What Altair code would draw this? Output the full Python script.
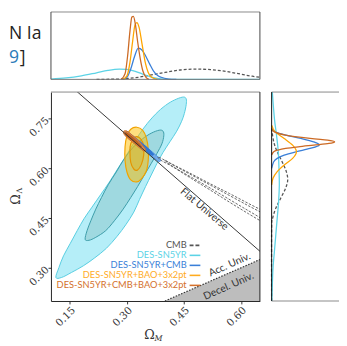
import altair as alt
import pandas as pd

# ---------------- data ----------------
series = ["CMB", "DES-SN5YR", "DES-SN5YR+CMB", "DES-SN5YR+BAO+3x2pt", "DES-SN5YR+CMB+BAO+3x2pt"]
colors = ["#555555", "#5cd3e6", "#3a7fd8", "#ffab1f", "#d4712c"]

# 2D contours: Omega_M / Omega_Lambda vertices
sn_out_om = [0.113, 0.121, 0.133, 0.151, 0.169, 0.187, 0.208, 0.231, 0.254, 0.277, 0.303, 0.328, 0.354, 0.382,
             0.408, 0.431, 0.449, 0.456, 0.456, 0.451, 0.444, 0.431, 0.413, 0.395, 0.379, 0.364, 0.349, 0.333,
             0.318, 0.297, 0.274, 0.246, 0.215, 0.185, 0.154, 0.128]
sn_out_ol = [0.271, 0.301, 0.336, 0.374, 0.412, 0.448, 0.483, 0.521, 0.559, 0.601, 0.648, 0.695, 0.736, 0.771,
             0.795, 0.809, 0.815, 0.809, 0.792, 0.765, 0.742, 0.712, 0.680, 0.648, 0.615, 0.580, 0.545, 0.506,
             0.468, 0.430, 0.395, 0.359, 0.330, 0.306, 0.286, 0.271]
sn_in_om = [0.190, 0.195, 0.205, 0.218, 0.233, 0.251, 0.272, 0.292, 0.315, 0.341, 0.364, 0.385, 0.395, 0.397,
            0.392, 0.379, 0.364, 0.346, 0.328, 0.310, 0.290, 0.267, 0.244, 0.218, 0.200]
sn_in_ol = [0.386, 0.412, 0.442, 0.477, 0.512, 0.551, 0.589, 0.627, 0.662, 0.689, 0.706, 0.715, 0.712, 0.698,
            0.674, 0.645, 0.615, 0.580, 0.545, 0.512, 0.477, 0.442, 0.412, 0.392, 0.383]
cmb_out_om = [0.383, 0.42, 0.47, 0.52, 0.57, 0.62, 0.67, 0.70, 0.70, 0.67, 0.62, 0.57, 0.52, 0.47, 0.42, 0.39]
cmb_out_ol = [0.634, 0.612, 0.583, 0.553, 0.524, 0.494, 0.465, 0.447, 0.408, 0.429, 0.463, 0.498, 0.534, 0.569,
              0.605, 0.624]
cmb_in_om = [0.40, 0.42, 0.52, 0.62, 0.70, 0.70, 0.62, 0.52, 0.42]
cmb_in_ol = [0.625, 0.611, 0.549, 0.487, 0.438, 0.420, 0.472, 0.540, 0.606]
sncmb_out_om = [0.300, 0.320, 0.340, 0.358, 0.375, 0.386, 0.389, 0.384, 0.370, 0.352, 0.333, 0.314, 0.300, 0.297]
sncmb_out_ol = [0.712, 0.694, 0.676, 0.658, 0.641, 0.630, 0.624, 0.621, 0.632, 0.649, 0.667, 0.685, 0.700, 0.707]
sncmb_in_om = [0.310, 0.330, 0.350, 0.366, 0.370, 0.364, 0.348, 0.328, 0.310, 0.306]
sncmb_in_ol = [0.702, 0.684, 0.665, 0.648, 0.641, 0.641, 0.656, 0.675, 0.692, 0.698]
snbao_out_om = [0.326, 0.341, 0.351, 0.356, 0.356, 0.351, 0.338, 0.326, 0.310, 0.300, 0.295, 0.295, 0.300, 0.310]
snbao_out_ol = [0.724, 0.715, 0.692, 0.659, 0.624, 0.592, 0.568, 0.559, 0.565, 0.589, 0.624, 0.665, 0.698, 0.718]
snbao_in_om = [0.323, 0.336, 0.344, 0.344, 0.338, 0.328, 0.318, 0.310, 0.308, 0.310]
snbao_in_ol = [0.695, 0.689, 0.668, 0.639, 0.612, 0.595, 0.598, 0.618, 0.648, 0.674]
all_out_om = [0.293, 0.300, 0.312, 0.325, 0.337, 0.347, 0.349, 0.343, 0.332, 0.318, 0.305, 0.295, 0.291]
all_out_ol = [0.713, 0.712, 0.702, 0.689, 0.675, 0.661, 0.654, 0.653, 0.663, 0.676, 0.688, 0.699, 0.707]
all_in_om = [0.297, 0.310, 0.323, 0.334, 0.338, 0.333, 0.320, 0.307, 0.297]
all_in_ol = [0.708, 0.698, 0.685, 0.672, 0.665, 0.666, 0.679, 0.691, 0.700]

# reference lines
flat_om = [0.10, 0.65]
flat_ol = [0.90, 0.35]
acc_om = [0.40, 0.65]
acc_ol = [0.20, 0.325]

# 1D marginals: Omega_M (top)
top_cmb_om = [0.22, 0.28, 0.33, 0.37, 0.40, 0.44, 0.48, 0.52, 0.56, 0.60, 0.63, 0.65]
top_cmb_p = [0.0, 0.005, 0.03, 0.07, 0.10, 0.135, 0.148, 0.14, 0.115, 0.075, 0.045, 0.03]
top_sn_om = [0.10, 0.14, 0.18, 0.22, 0.25, 0.28, 0.30, 0.32, 0.34, 0.36, 0.38, 0.40, 0.43, 0.65]
top_sn_p = [0.005, 0.02, 0.05, 0.095, 0.13, 0.148, 0.145, 0.12, 0.08, 0.04, 0.015, 0.004, 0.0, 0.0]
top_sncmb_om = [0.29, 0.30, 0.31, 0.32, 0.33, 0.34, 0.35, 0.36, 0.37, 0.38, 0.39, 0.41, 0.43]
top_sncmb_p = [0.0, 0.03, 0.15, 0.33, 0.45, 0.42, 0.33, 0.22, 0.12, 0.06, 0.03, 0.005, 0.0]
top_snbao_om = [0.29, 0.30, 0.308, 0.315, 0.321, 0.326, 0.332, 0.34, 0.348, 0.356, 0.365, 0.38]
top_snbao_p = [0.0, 0.05, 0.25, 0.55, 0.78, 0.82, 0.75, 0.5, 0.25, 0.1, 0.03, 0.0]
top_all_om = [0.285, 0.295, 0.302, 0.308, 0.313, 0.317, 0.322, 0.328, 0.335, 0.342, 0.350, 0.358]
top_all_p = [0.0, 0.08, 0.35, 0.7, 0.9, 0.91, 0.8, 0.55, 0.3, 0.12, 0.03, 0.0]

# 1D marginals: Omega_Lambda (right)
r_cmb_ol = [0.72, 0.68, 0.65, 0.62, 0.59, 0.565, 0.54, 0.51, 0.48, 0.45, 0.42, 0.20]
r_cmb_p = [0.0, 0.03, 0.08, 0.15, 0.21, 0.23, 0.2, 0.13, 0.06, 0.015, 0.0, 0.0]
r_sn_ol = [0.83, 0.75, 0.70, 0.65, 0.60, 0.55, 0.50, 0.45, 0.40, 0.35, 0.30, 0.25, 0.20]
r_sn_p = [0.01, 0.04, 0.07, 0.095, 0.105, 0.11, 0.10, 0.08, 0.06, 0.04, 0.02, 0.01, 0.003]
r_sncmb_ol = [0.72, 0.71, 0.70, 0.69, 0.68, 0.67, 0.66, 0.65, 0.64, 0.63, 0.62, 0.60]
r_sncmb_p = [0.0, 0.05, 0.2, 0.42, 0.6, 0.68, 0.55, 0.35, 0.18, 0.08, 0.03, 0.0]
r_snbao_ol = [0.73, 0.71, 0.69, 0.67, 0.655, 0.645, 0.63, 0.61, 0.59, 0.57, 0.55]
r_snbao_p = [0.0, 0.05, 0.18, 0.3, 0.35, 0.35, 0.3, 0.18, 0.08, 0.02, 0.0]
r_all_ol = [0.72, 0.71, 0.70, 0.69, 0.685, 0.68, 0.675, 0.67, 0.665, 0.66, 0.655, 0.65, 0.64]
r_all_p = [0.0, 0.04, 0.2, 0.55, 0.8, 0.9, 0.82, 0.6, 0.38, 0.2, 0.09, 0.03, 0.0]

# ---------------- helpers ----------------
W, H = 214, 214
xs = alt.Scale(domain=[0.10, 0.65], nice=False, zero=False)
ys = alt.Scale(domain=[0.20, 0.83], nice=False, zero=False)
xaxis = alt.Axis(values=[0.15, 0.30, 0.45, 0.60], format=".2f", labelAngle=315, labelFont="DejaVu Serif",
                 labelFontSize=10.5, labelColor="#333", tickSize=3, tickColor="#333", domainColor="#222",
                 grid=False, title=None, labelPadding=1)
yaxis = alt.Axis(values=[0.30, 0.45, 0.60, 0.75], format=".2f", labelAngle=315, labelFont="DejaVu Serif",
                 labelFontSize=10.5, labelColor="#333", tickSize=3, tickColor="#333", domainColor="#222",
                 grid=False, title=None, labelPadding=1)
X = alt.X("om:Q", scale=xs, axis=xaxis)
Y = alt.Y("ol:Q", scale=ys, axis=yaxis)


def poly(om, ol):
    return pd.DataFrame({"om": om, "ol": ol, "i": list(range(len(om)))})


def contour(om, ol, stroke, fill=None, fop=1.0, sw=1.0, dash=None, clip=False):
    mk = dict(interpolate="cardinal-closed", stroke=stroke, strokeWidth=sw, clip=clip)
    if fill is not None:
        mk["fill"] = fill
        mk["fillOpacity"] = fop
    if dash is not None:
        mk["strokeDash"] = dash
    return alt.Chart(poly(om, ol)).mark_line(**mk).encode(x=X, y=Y, order="i:Q")


# ---------------- main panel ----------------
decel = alt.Chart(pd.DataFrame({"om": acc_om, "ol": acc_ol, "b": [acc_ol[0]] * 2})).mark_area(
    color="#bdbdbd", clip=True).encode(x=X, y=Y, y2="b:Q")
acc_line = alt.Chart(poly(acc_om, acc_ol)).mark_line(color="#333", strokeWidth=1.2, strokeDash=[1.5, 1.5],
                                                      clip=True).encode(x=X, y=Y)
flat_line = alt.Chart(poly(flat_om, flat_ol)).mark_line(color="#333", strokeWidth=1, clip=True).encode(x=X, y=Y)

main = alt.layer(
    decel,
    contour(sn_out_om, sn_out_ol, "#55cde0", fill="#b5eef8"),
    contour(sn_in_om, sn_in_ol, "#3b9ba8", fill="#9fd9e0"),
    contour(snbao_out_om, snbao_out_ol, "#f2a300", fill="#ffbf00", fop=0.5, sw=1.2),
    contour(snbao_in_om, snbao_in_ol, "#e59500", fill="#e0a800", fop=0.3, sw=1.2),
    contour(sncmb_out_om, sncmb_out_ol, "#4a8de0", fill="#6fa6e8", fop=0.9),
    contour(sncmb_in_om, sncmb_in_ol, "#2a6fcf", fill="#2f78d6"),
    contour(all_out_om, all_out_ol, "#d0702e", fill="#e08a4a", fop=0.9),
    contour(all_in_om, all_in_ol, "#b85a18", fill="#c0601c"),
    contour(cmb_out_om, cmb_out_ol, "#555", sw=0.9, dash=[2.5, 1.5], clip=True),
    contour(cmb_in_om, cmb_in_ol, "#555", sw=0.9, dash=[2.5, 1.5], clip=True),
    flat_line,
    acc_line,
)

# ---------------- top marginal ----------------
tx = alt.X("om:Q", scale=alt.Scale(domain=[0.10, 0.65], nice=False, zero=False), axis=None)
ty = alt.Y("p:Q", scale=alt.Scale(domain=[0, 1], range=[-13, -84], nice=False), axis=None)


def tline(om, p, color, dash=None):
    mk = dict(color=color, strokeWidth=1.3, interpolate="monotone")
    if dash is not None:
        mk["strokeDash"] = dash
    return alt.Chart(pd.DataFrame({"om": om, "p": p})).mark_line(**mk).encode(x=tx, y=ty)


top = alt.layer(
    tline(top_cmb_om, top_cmb_p, "#555", dash=[3, 2]),
    tline(top_sn_om, top_sn_p, "#5cd3e6"),
    tline(top_sncmb_om, top_sncmb_p, "#3a7fd8"),
    tline(top_snbao_om, top_snbao_p, "#ffa500"),
    tline(top_all_om, top_all_p, "#cc6a24"),
)

# ---------------- right marginal ----------------
rx = alt.X("p:Q", scale=alt.Scale(domain=[0, 1], range=[226, 297.6], nice=False), axis=None)
ry = alt.Y("ol:Q", scale=alt.Scale(domain=[0.20, 0.83], nice=False, zero=False), axis=None)


def rline(ol, p, color, dash=None):
    mk = dict(color=color, strokeWidth=1.3, interpolate="cardinal")
    if dash is not None:
        mk["strokeDash"] = dash
    return alt.Chart(pd.DataFrame({"ol": ol, "p": p})).mark_line(**mk).encode(x=rx, y=ry, order="ol:Q")


right = alt.layer(
    rline(r_cmb_ol, r_cmb_p, "#555", dash=[3, 2]),
    rline(r_sn_ol, r_sn_p, "#5cd3e6"),
    rline(r_sncmb_ol, r_sncmb_p, "#3a7fd8"),
    rline(r_snbao_ol, r_snbao_p, "#ffa500"),
    rline(r_all_ol, r_all_p, "#cc6a24"),
)

# ---------------- legend ----------------
leg_df = pd.DataFrame({"label": series, "color": colors})
ly = alt.Y("label:N", scale=alt.Scale(type="point", domain=series, range=[157, 198], padding=0), axis=None)
leg_text = alt.Chart(leg_df).mark_text(align="right", baseline="middle", font="Lato", fontSize=9.5).encode(
    x=alt.value(139), y=ly, text="label:N", color=alt.Color("color:N", scale=None))
leg_sym = alt.Chart(leg_df[leg_df.label != "CMB"]).mark_rule(strokeWidth=1.6).encode(
    x=alt.value(142), x2=alt.value(153), y=ly, color=alt.Color("color:N", scale=None))
leg_cmb = alt.Chart(leg_df[leg_df.label == "CMB"]).mark_rule(strokeWidth=1.6, strokeDash=[4, 2]).encode(
    x=alt.value(142), x2=alt.value(153), y=ly, color=alt.Color("color:N", scale=None))
legend = alt.layer(leg_text, leg_sym, leg_cmb)

# ---------------- frames & annotations ----------------
one = pd.DataFrame({"a": [0]})


def rule(color, **pos):
    return alt.Chart(one).mark_rule(color=color, strokeWidth=1).encode(**{k: alt.value(v) for k, v in pos.items()})


def txt(s, x, y, **kw):
    return alt.Chart(one).mark_text(text=s, **kw).encode(x=alt.value(x), y=alt.value(y))


frames = alt.layer(
    rule("#888", x=0, x2=W, y=0),
    rule("#222", x=W, y=0, y2=H),
    rule("#888", x=0, x2=W, y=-82),
    rule("#444", x=0, y=-82, y2=-13),
    rule("#444", x=W, y=-82, y2=-13),
    rule("#777", x=0, x2=W, y=-13),
    rule("#888", x=226, x2=320, y=0),
    rule("#888", x=226, x2=320, y=H),
    rule("#111", x=226, y=0, y2=H),
)

annot = alt.layer(
    txt("Flat Universe", 157, 120, angle=40, font="Lato", fontSize=10.5, color="#333"),
    txt("Acc. Univ.", 183, 177, angle=336, font="Lato", fontSize=10.5, color="#333"),
    txt("Decel. Univ.", 182, 199, angle=336, font="Lato", fontSize=10.5, color="#333"),
    txt("Ω", 101, 249, font="DejaVu Serif", fontSize=13, color="#333", baseline="middle"),
    txt("M", 110, 253, font="DejaVu Serif", fontSize=8, fontStyle="italic", color="#333", baseline="middle"),
    txt("Ω", -36, 110, angle=270, font="DejaVu Serif", fontSize=13, color="#333", baseline="middle"),
    txt("Λ", -32, 101, angle=270, font="DejaVu Serif", fontSize=8, color="#333", baseline="middle"),
    txt("N Ia", -43, -54, align="left", baseline="alphabetic", font="Open Sans", fontSize=18, color="#222"),
    txt("9", -43, -30, align="left", baseline="alphabetic", font="Open Sans", fontSize=18, color="#2b7bb9"),
    txt("]", -32, -30, align="left", baseline="alphabetic", font="Open Sans", fontSize=18, color="#222"),
)

chart = alt.layer(main, top, right, legend, frames, annot).resolve_scale(
    x="independent", y="independent"
).properties(
    width=W, height=H,
    padding={"left": 44, "top": 82, "right": 81, "bottom": 42},
    autosize=alt.AutoSizeParams(type="none"),
).configure_view(stroke=None)

chart.save("out.html", embed_options={"renderer": "svg", "actions": False})
